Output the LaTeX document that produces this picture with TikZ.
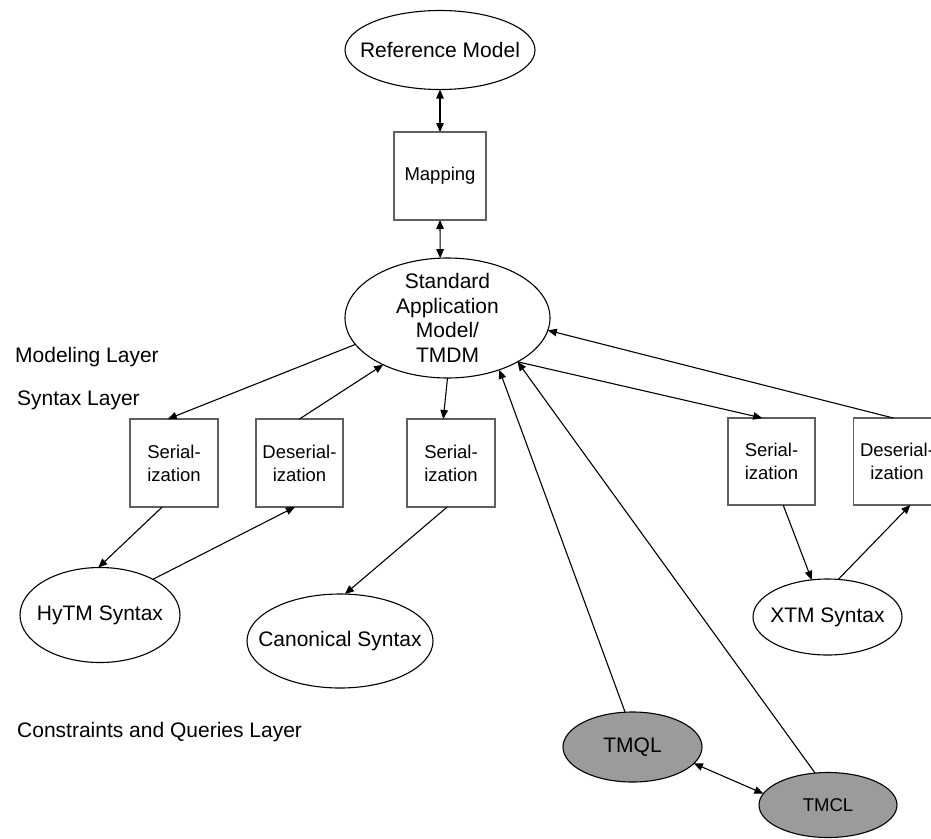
\documentclass[tikz,border=0pt]{standalone}
\usepackage{fontspec}
\setmainfont{Liberation Sans}
\usetikzlibrary{arrows.meta,shapes.geometric}
\definecolor{boxline}{RGB}{95,95,95}
\definecolor{termfill}{RGB}{155,155,155}
\begin{document}
\begin{tikzpicture}[x=1pt,y=-1pt,
  big/.style={font=\fontsize{21}{24.6}\selectfont},
  small/.style={font=\fontsize{18.5}{23}\selectfont},
  oval/.style={ellipse, draw=black, line width=1.1pt, inner xsep=-20pt,
    inner ysep=-10pt, outer sep=0pt, big, align=center},
  query/.style={oval, fill=termfill},
  stepbox/.style={rectangle, draw=boxline, line width=1.3pt,
    minimum width=87pt, minimum height=88pt, inner sep=0pt, outer sep=0pt,
    small, align=center},
  layer/.style={anchor=base west, big, inner sep=0pt},
  tip/.style={Triangle[length=9pt,width=7.5pt]},
  link/.style={line width=1.1pt, -{Triangle[length=9pt,width=7.5pt]}},
  both/.style={line width=1.1pt,
    {Triangle[length=9pt,width=7.5pt]}-{Triangle[length=9pt,width=7.5pt]}}]

\useasboundingbox (0,0) rectangle (931,838);

% modelling layer
\node[oval, minimum width=190pt, minimum height=79pt] (ref) at (440,50) {Reference Model};
\node[stepbox, minimum width=92pt] (map) at (440,176) {Mapping};
\node[oval, minimum width=205pt, minimum height=120pt] (std) at (447.5,318)
  {Standard\\Application\\Model/\\TMDM};

% layer captions
\node[layer] (lmod) at (15,362) {Modeling Layer};
\node[layer] (lsyn) at (17,405) {Syntax Layer};
\node[layer] (lcq)  at (17,737) {Constraints and Queries Layer};

% syntax layer: serializers and deserializers
\node[stepbox, minimum width=88pt] (ser1) at (174,463) {Serial-\\ization};
\node[stepbox] (des1) at (299.5,463) {Deserial-\\ization};
\node[stepbox, minimum width=88pt] (ser2) at (451,463) {Serial-\\ization};
\node[stepbox, minimum height=87pt] (ser3) at (771.5,461.5) {Serial-\\ization};
\node[stepbox, minimum height=87pt] (des2) at (897,461.5) {Deserial-\\ization};

% concrete syntaxes
\node[oval, minimum width=160pt, minimum height=95pt] (hytm) at (100,615) {HyTM Syntax};
\node[oval, minimum width=186pt, minimum height=94pt] (canon) at (340,641) {Canonical Syntax};
\node[oval, minimum width=149pt, minimum height=76pt] (xtm) at (827.5,617) {XTM Syntax};

% constraint and query languages
\node[query, minimum width=139pt, minimum height=70pt] (tmql) at (632.5,747) {TMQL};
\node[query, small, minimum width=138pt, minimum height=65pt] (tmcl) at (828,805) {TMCL};

% connectors
\draw[both] (ref.south) -- (map.north);
\draw[both] (map.south) -- (std.97);

\draw[link] (std.196) -- (ser1.98);
\draw[link] (des1.north) -- (std.216);
\draw[link] (std.south) -- (ser2.100);
\draw[link] (std.328) -- (ser3.102);
\draw[link] (des2.95) -- (std.353);

\draw[link] (ser1.255) -- (hytm.92);
\draw[link] (hytm.34) -- (des1.264);
\draw[link] (ser2.265) -- (canon.84);
\draw[link] (ser3.285) -- (xtm.113);
\draw[link] (xtm.74) -- (des2.287);

\draw[link] (tmql.102) -- (std.315);
\draw[link] (tmcl.112) -- (std.328);
\draw[both] (tmql.345) -- (tmcl.170);
\end{tikzpicture}
\end{document}
